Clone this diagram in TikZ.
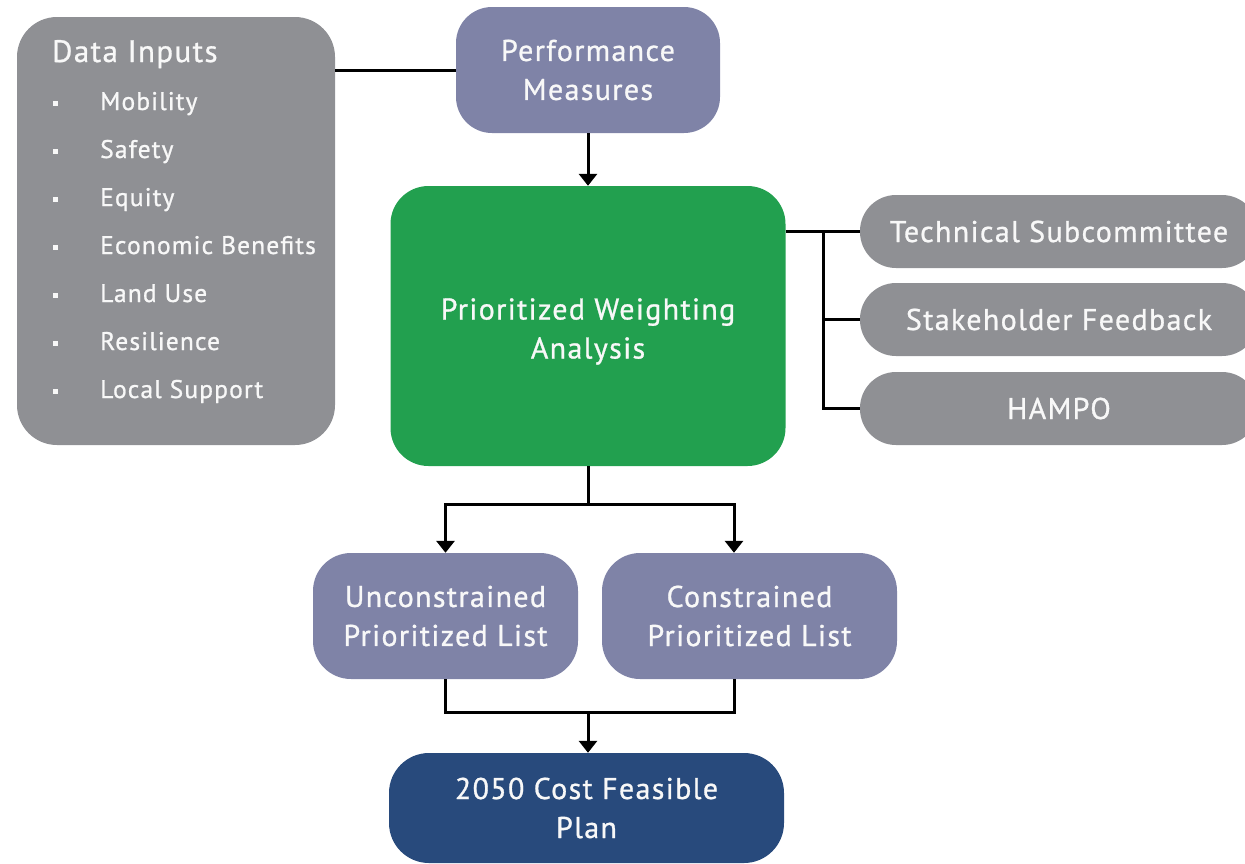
\documentclass[tikz,border=0pt]{standalone}
\usepackage{fontspec}
\setmainfont{PT Sans}[FakeBold=0.9,LetterSpace=4.5]
\usetikzlibrary{arrows.meta,calc}
\definecolor{boxgray}{HTML}{8F9094}
\definecolor{boxpurple}{HTML}{7F83A7}
\definecolor{boxgreen}{HTML}{22A04F}
\definecolor{boxnavy}{HTML}{284A7C}
\definecolor{txtw}{HTML}{F8F8F8}
\begin{document}
\begin{tikzpicture}[x=1pt,y=-1pt,
  card/.style={draw=none, inner sep=0pt, align=center, text=txtw,
    font=\fontsize{30}{39}\selectfont},
  item/.style={anchor=base west, inner sep=0pt, text=txtw,
    font=\fontsize{25.5}{30}\selectfont},
  conn/.style={line width=3pt, line join=miter, draw=black},
  arr/.style={conn, -{Triangle[width=18pt,length=12pt]}}]
\useasboundingbox (0,0) rectangle (1245,863);
\clip (0,0) rectangle (1245,863);
% boxes
\node[card, fill=boxgray, rounded corners=40pt, minimum width=318pt, minimum height=428pt] (di) at (176,231) {};
\node[card, fill=boxpurple, rounded corners=36pt, minimum width=264pt, minimum height=126pt] (perf) at (588,70) {Performance\\Measures};
\node[card, fill=boxgreen, rounded corners=38pt, minimum width=395pt, minimum height=280pt, text height=72pt, text depth=7pt] (pwa) at (588,326) {Prioritized Weighting\\Analysis};
\node[card, fill=boxgray, rounded corners=36pt, minimum width=398pt, minimum height=73pt] (tech) at (1059,231.5) {Technical Subcommittee};
\node[card, fill=boxgray, rounded corners=36pt, minimum width=398pt, minimum height=73pt] (stake) at (1059,319.5) {Stakeholder Feedback};
\node[card, fill=boxgray, rounded corners=36pt, minimum width=398pt, minimum height=73pt] (hampo) at (1059,408.5) {HAMPO};
\node[card, fill=boxpurple, rounded corners=38pt, minimum width=265pt, minimum height=126pt] (uc) at (445.5,616) {Unconstrained\\Prioritized List};
\node[card, fill=boxpurple, rounded corners=38pt, minimum width=295pt, minimum height=126pt] (cn) at (749.5,616) {Constrained\\Prioritized List};
\node[card, fill=boxnavy, rounded corners=40pt, minimum width=395pt, minimum height=110pt] (plan) at (586.5,808) {2050 Cost Feasible\\Plan};
% data inputs text
\node[item, font=\fontsize{31}{31}\selectfont] (dt) at (52,62) {Data Inputs};
\foreach \t [count=\i from 0] in {Mobility,Safety,Equity,Economic Benefits,Land Use,Resilience,Local Support}{
  \fill[txtw] (52.5,{101+48*\i}) rectangle ++(5,5);
  \node[item] (it\i) at (100,{110+48*\i}) {\t};
}
% connectors
\draw[conn] (di.east |- perf.west) -- (perf.west);
\draw[arr] (perf.south) -- (perf.south |- pwa.north);
\coordinate (bx) at (823,231.5);
\draw[conn] (pwa.east |- tech.west) -- (tech.west);
\draw[conn] (bx) |- (hampo.west);
\draw[conn] (bx |- stake.west) -- (stake.west);
\coordinate (sp) at ($(pwa.south)+(0,38)$);
\coordinate (cnn) at ([xshift=-15.5pt]cn.north);
\coordinate (cns) at ([xshift=-15.5pt]cn.south);
\draw[conn] (pwa.south) -- (sp);
\draw[arr] (sp) -| (uc.north);
\draw[arr] (sp) -| (cnn);
\coordinate (mg) at (588,712);
\draw[conn] (uc.south) |- (cns |- mg) -- (cns);
\draw[arr] (mg) -- (mg |- plan.north);
\end{tikzpicture}
\end{document}
